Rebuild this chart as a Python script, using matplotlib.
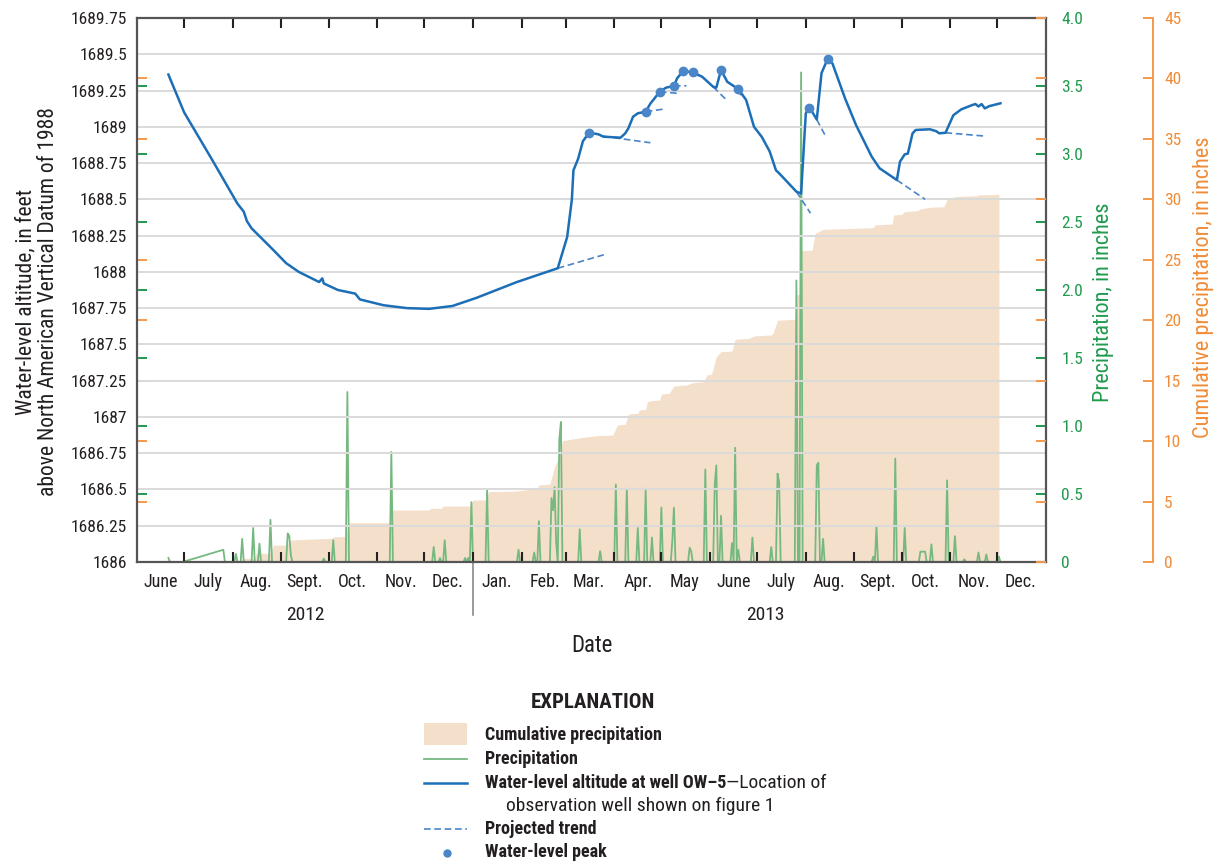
import matplotlib
matplotlib.use('Agg')
import matplotlib.pyplot as plt
import matplotlib.dates as mdates
import matplotlib.transforms as mtransforms
import matplotlib.font_manager as fm
from matplotlib.ticker import FixedLocator, FixedFormatter, FuncFormatter
from matplotlib.lines import Line2D
from matplotlib.patches import Rectangle
import pandas as pd

# узкий шрифт, если есть
avail = {f.name for f in fm.fontManager.ttflist}
narrow = [n for n in ['Liberation Sans Narrow', 'Roboto Condensed', 'Open Sans Condensed',
                      'Noto Sans Condensed', 'DejaVu Sans Condensed'] if n in avail]
if narrow:
    plt.rcParams['font.family'] = [narrow[0], 'DejaVu Sans']
    FSC = 1.0
else:
    plt.rcParams['font.family'] = ['Roboto', 'Liberation Sans', 'DejaVu Sans']
    FSC = 0.9

# уровень воды в скважине OW-5, футы
level_dates = ['2012-06-21', '2012-07-01', '2012-07-19', '2012-08-04', '2012-08-08', '2012-08-10',
               '2012-08-13', '2012-08-26', '2012-09-04', '2012-09-12', '2012-09-25', '2012-09-27',
               '2012-09-28', '2012-10-07', '2012-10-18', '2012-10-21', '2012-11-05', '2012-11-20',
               '2012-12-04', '2012-12-19', '2013-01-03', '2013-01-16', '2013-01-29', '2013-02-24',
               '2013-03-02', '2013-03-05', '2013-03-06', '2013-03-09', '2013-03-12', '2013-03-16',
               '2013-03-22', '2013-03-25', '2013-04-05', '2013-04-08', '2013-04-10', '2013-04-13',
               '2013-04-16', '2013-04-21', '2013-04-24', '2013-04-30', '2013-05-04', '2013-05-09',
               '2013-05-11', '2013-05-15', '2013-05-21', '2013-05-27', '2013-06-03', '2013-06-05',
               '2013-06-08', '2013-06-12', '2013-06-19', '2013-06-24', '2013-06-29', '2013-07-04',
               '2013-07-09', '2013-07-13', '2013-07-15', '2013-07-26', '2013-07-29', '2013-08-01',
               '2013-08-03', '2013-08-05', '2013-08-08', '2013-08-11', '2013-08-15', '2013-08-18',
               '2013-08-26', '2013-09-02', '2013-09-12', '2013-09-17', '2013-09-28', '2013-09-30',
               '2013-10-03', '2013-10-05', '2013-10-08', '2013-10-10', '2013-10-19', '2013-10-23',
               '2013-10-25', '2013-10-29', '2013-11-03', '2013-11-08', '2013-11-15', '2013-11-17',
               '2013-11-19', '2013-11-21', '2013-11-23', '2013-11-26', '2013-12-03']
level_vals = [1689.36, 1689.10, 1688.77, 1688.47, 1688.415, 1688.35,
              1688.30, 1688.16, 1688.06, 1688.00, 1687.93, 1687.955,
              1687.92, 1687.875, 1687.85, 1687.81, 1687.77, 1687.75,
              1687.745, 1687.765, 1687.82, 1687.875, 1687.93, 1688.025,
              1688.24, 1688.50, 1688.70, 1688.78, 1688.90, 1688.96,
              1688.948, 1688.932, 1688.925, 1688.955, 1688.99, 1689.07,
              1689.093, 1689.104, 1689.16, 1689.242, 1689.27, 1689.281,
              1689.334, 1689.385, 1689.375, 1689.345, 1689.276, 1689.27,
              1689.391, 1689.31, 1689.26, 1689.185, 1689.00, 1688.93,
              1688.83, 1688.70, 1688.68, 1688.553, 1688.54, 1689.093,
              1689.127, 1689.104, 1689.05, 1689.37, 1689.47, 1689.436,
              1689.196, 1689.012, 1688.794, 1688.714, 1688.633, 1688.76,
              1688.81, 1688.815, 1688.955, 1688.978, 1688.983, 1688.97,
              1688.955, 1688.959, 1689.08, 1689.12, 1689.15, 1689.157,
              1689.14, 1689.157, 1689.127, 1689.143, 1689.162]

# пики уровня
peak_dates = ['2013-03-16', '2013-04-21', '2013-04-30', '2013-05-09', '2013-05-15',
              '2013-05-21', '2013-06-08', '2013-06-19', '2013-08-03', '2013-08-15']
peak_vals = [1688.96, 1689.104, 1689.242, 1689.281, 1689.385,
             1689.375, 1689.391, 1689.26, 1689.127, 1689.47]

# прогнозные тренды: начало и конец
trend_start = ['2013-02-24', '2013-03-25', '2013-04-21', '2013-04-30', '2013-05-09', '2013-05-21',
               '2013-06-03', '2013-06-19', '2013-07-26', '2013-08-08', '2013-09-28', '2013-10-29']
trend_start_vals = [1688.025, 1688.935, 1689.104, 1689.242, 1689.281, 1689.375,
                    1689.276, 1689.26, 1688.553, 1689.05, 1688.633, 1688.959]
trend_end = ['2013-03-26', '2013-04-24', '2013-05-03', '2013-05-11', '2013-05-17', '2013-05-25',
             '2013-06-11', '2013-06-21', '2013-08-04', '2013-08-14', '2013-10-16', '2013-11-23']
trend_end_vals = [1688.12, 1688.89, 1689.123, 1689.231, 1689.283, 1689.35,
                  1689.19, 1689.204, 1688.404, 1688.927, 1688.50, 1688.936]

# суточные осадки, дюймы (дни без отметки = 0)
precip_first, precip_last = '2012-06-21', '2013-12-03'
precip_gap = ('2012-07-01', '2012-07-25')  # пропуск данных
rain_dates = ['2012-06-21', '2012-07-26', '2012-08-03', '2012-08-07', '2012-08-14', '2012-08-18',
              '2012-08-25', '2012-09-05', '2012-09-06', '2012-09-07', '2012-09-28', '2012-10-04',
              '2012-10-13', '2012-11-10', '2012-12-07', '2012-12-11', '2012-12-14', '2012-12-27',
              '2012-12-29', '2012-12-31', '2013-01-10', '2013-01-30', '2013-02-09', '2013-02-12',
              '2013-02-20', '2013-02-21', '2013-02-22', '2013-02-23', '2013-02-25', '2013-02-26',
              '2013-03-10', '2013-03-23', '2013-04-02', '2013-04-09', '2013-04-16', '2013-04-21',
              '2013-04-25', '2013-05-01', '2013-05-08', '2013-05-09', '2013-05-19', '2013-05-20',
              '2013-05-29', '2013-06-04', '2013-06-05', '2013-06-08', '2013-06-15', '2013-06-17',
              '2013-06-19', '2013-06-28', '2013-07-10', '2013-07-14', '2013-07-15', '2013-07-26',
              '2013-07-29', '2013-08-08', '2013-08-09', '2013-08-12', '2013-09-13', '2013-09-15',
              '2013-09-27', '2013-10-03', '2013-10-13', '2013-10-14', '2013-10-15', '2013-10-16',
              '2013-10-20', '2013-10-30', '2013-11-04', '2013-11-10', '2013-11-19', '2013-11-24',
              '2013-12-02']
rain_vals = [0.03, 0.09, 0.06, 0.17, 0.25, 0.135,
             0.31, 0.21, 0.19, 0.05, 0.025, 0.16,
             1.25, 0.81, 0.11, 0.03, 0.16, 0.03,
             0.03, 0.44, 0.53, 0.09, 0.07, 0.30,
             0.47, 0.38, 0.55, 0.14, 0.90, 1.03,
             0.24, 0.08, 0.57, 0.54, 0.25, 0.54,
             0.18, 0.40, 0.16, 0.40, 0.105, 0.08,
             0.68, 0.57, 0.71, 0.34, 0.14, 0.84,
             0.09, 0.18, 0.11, 0.65, 0.59, 2.07,
             3.60, 0.71, 0.73, 0.17, 0.04, 0.26,
             0.76, 0.25, 0.076, 0.076, 0.076, 0.076,
             0.13, 0.60, 0.19, 0.02, 0.07, 0.055,
             0.04]

# накопленные осадки, дюймы
cum_dates = ['2012-06-21', '2012-08-06', '2012-08-08', '2012-08-15', '2012-08-16', '2012-08-25',
             '2012-08-27', '2012-09-04', '2012-09-07', '2012-10-03', '2012-10-05', '2012-10-12',
             '2012-10-14', '2012-11-09', '2012-11-11', '2012-12-04', '2012-12-05', '2012-12-12',
             '2012-12-13', '2012-12-30', '2013-01-01', '2013-01-09', '2013-01-11', '2013-01-29',
             '2013-02-11', '2013-02-12', '2013-02-19', '2013-02-22', '2013-02-25', '2013-02-27',
             '2013-03-10', '2013-03-21', '2013-03-31', '2013-04-03', '2013-04-08', '2013-04-10',
             '2013-04-16', '2013-04-17', '2013-04-21', '2013-04-22', '2013-04-24', '2013-04-30',
             '2013-05-01', '2013-05-06', '2013-05-09', '2013-05-17', '2013-05-21', '2013-05-28',
             '2013-05-30', '2013-06-02', '2013-06-05', '2013-06-08', '2013-06-15', '2013-06-17',
             '2013-06-26', '2013-06-29', '2013-07-10', '2013-07-11', '2013-07-14', '2013-07-25',
             '2013-07-26', '2013-07-28', '2013-07-29', '2013-08-05', '2013-08-07', '2013-08-12',
             '2013-09-13', '2013-09-14', '2013-09-25', '2013-09-26', '2013-10-01', '2013-10-03',
             '2013-10-11', '2013-10-13', '2013-10-19', '2013-10-28', '2013-10-30', '2013-11-04',
             '2013-11-18', '2013-11-19', '2013-12-02']
cum_vals = [0.0, 0.0, 0.3, 0.3, 0.72, 0.72,
            1.4, 1.4, 1.82, 1.96, 2.1, 2.1,
            3.25, 3.25, 4.3, 4.3, 4.44, 4.44,
            4.63, 4.63, 5.13, 5.13, 5.82, 5.87,
            6.1, 6.37, 6.45, 7.9, 8.7, 10.03,
            10.28, 10.45, 10.5, 11.33, 11.39, 12.24,
            12.3, 12.57, 12.63, 13.26, 13.34, 13.4,
            13.9, 13.95, 14.56, 14.64, 14.83, 14.91,
            15.47, 15.55, 16.98, 17.4, 17.45, 18.42,
            18.5, 18.7, 18.78, 18.9, 20.0, 20.07,
            22.14, 22.14, 25.75, 25.8, 27.19, 27.52,
            27.65, 27.88, 27.96, 28.7, 28.76, 28.98,
            29.06, 29.2, 29.34, 29.39, 30.0, 30.22,
            30.3, 30.36, 30.42]

month_labels = ['June', 'July', 'Aug.', 'Sept.', 'Oct.', 'Nov.', 'Dec.',
                'Jan.', 'Feb.', 'Mar.', 'Apr.', 'May', 'June', 'July', 'Aug.',
                'Sept.', 'Oct.', 'Nov.', 'Dec.']
years = ['2012', '2013']

# цвета
BLUE = '#1c6fb7'
TREND = '#4a84c6'
GREEN_LINE = '#76b980'
GREEN = '#1f9a4c'
ORANGE = '#f39a4b'
ORANGE_TXT = '#f08b36'
FILL = '#f4dfcb'
GRID = '#dadada'
SPINE = '#555555'
TXT = '#231f20'

# подготовка рядов
ld = pd.to_datetime(level_dates)
cd = pd.to_datetime(cum_dates)
days = pd.date_range(precip_first, precip_last, freq='D')
precip = pd.Series(0.0, index=days)
precip[pd.to_datetime(rain_dates)] = rain_vals
precip = precip[(precip.index < precip_gap[0]) | (precip.index > precip_gap[1])]

fig = plt.figure(figsize=(12.15, 8.61), dpi=100)
ax = fig.add_axes([137 / 1215, 1 - 562 / 861, 909 / 1215, 544 / 861])
ax3 = ax.twinx()  # накопленные
ax2 = ax.twinx()  # суточные
ax4 = ax.twinx()  # оранжевые засечки у правой рамки

ax3.set_zorder(1)
ax2.set_zorder(2)
ax.set_zorder(3)
ax4.set_zorder(4)
for a in (ax, ax2, ax3, ax4):
    a.patch.set_visible(False)

ax3.fill_between(cd, cum_vals, 0, color=FILL, lw=0)
ax2.plot(precip.index, precip.values, color=GREEN_LINE, lw=1.3)

ax.plot(ld, level_vals, color=BLUE, lw=1.8, zorder=5)
for s, sv, e, ev in zip(trend_start, trend_start_vals, trend_end, trend_end_vals):
    ax.plot(pd.to_datetime([s, e]), [sv, ev], color=TREND, lw=1.2, ls=(0, (4, 2.2)), zorder=4)
ax.plot(pd.to_datetime(peak_dates), peak_vals, 'o', color='#4a86c8', ms=6, zorder=6)

x0, x1 = pd.Timestamp('2012-06-01'), pd.Timestamp('2014-01-01')
ax.set_xlim(x0, x1)
ax.set_ylim(1686, 1689.75)
ax2.set_ylim(0, 4)
ax3.set_ylim(0, 45)
ax4.set_ylim(0, 45)

TICK_FS = 12.5 * FSC

# левая ось
ax.set_yticks([1686 + 0.25 * i for i in range(16)])
ax.yaxis.set_major_formatter(FuncFormatter(lambda v, p: '%g' % v))
ax.tick_params(axis='y', length=0, pad=7, labelsize=TICK_FS, labelcolor=TXT)
ax.yaxis.grid(True, color=GRID, lw=1.4)
ax.set_axisbelow(True)

# ось дат
month_starts = pd.date_range('2012-07-01', '2013-12-01', freq='MS')
ax.xaxis.set_major_locator(FixedLocator(mdates.date2num(month_starts)))
mids = pd.date_range('2012-06-01', '2013-12-01', freq='MS') + pd.Timedelta(days=15)
ax.xaxis.set_minor_locator(FixedLocator(mdates.date2num(mids)))
ax.xaxis.set_minor_formatter(FixedFormatter(month_labels))
ax.xaxis.set_major_formatter(FixedFormatter([''] * len(month_starts)))
ax.tick_params(axis='x', which='major', direction='in', top=True, bottom=True,
               length=7, width=1.5, color='#222222')
ax.tick_params(axis='x', which='minor', length=0, pad=8, labelsize=13 * FSC, labelcolor=TXT)

for a in (ax2, ax3, ax4):
    a.tick_params(axis='x', which='both', bottom=False, top=False, labelbottom=False)

for sp in ax.spines.values():
    sp.set_color(SPINE)
    sp.set_linewidth(1.6)

# суточные осадки (зелёная ось)
ax2.set_yticks([0.5 * i for i in range(9)])
ax2.yaxis.set_major_formatter(FuncFormatter(lambda v, p: '0' if v == 0 else '%.1f' % v))
ax2.tick_params(axis='y', direction='in', left=True, right=True, labelleft=False, labelright=True,
                length=7, width=1.4, color=GREEN, labelcolor=GREEN, labelsize=TICK_FS, pad=11)
for sp in ax2.spines.values():
    sp.set_visible(False)
ax2.set_ylabel('Precipitation, in inches', color=GREEN, fontsize=16 * FSC, va='center')
ax2.yaxis.set_label_coords((1104 - 137) / 909, (562 - 302) / 544)

# накопленные осадки (оранжевая ось)
for name, sp in ax3.spines.items():
    sp.set_visible(name == 'right')
ax3.spines['right'].set_position(('outward', 77))
ax3.spines['right'].set_color(ORANGE)
ax3.spines['right'].set_linewidth(1.4)
ax3.set_yticks(range(0, 46, 5))
ax3.tick_params(axis='y', direction='in', left=True, right=True, labelleft=False, labelright=True,
                length=7, width=1.4, color=ORANGE, labelcolor=ORANGE_TXT, labelsize=TICK_FS, pad=8)
ax3.set_ylabel('Cumulative precipitation, in inches', color=ORANGE_TXT, fontsize=16 * FSC, va='center')
ax3.yaxis.set_label_coords((1204 - 137) / 909, (562 - 287) / 544)

for sp in ax4.spines.values():
    sp.set_visible(False)
ax4.set_yticks(range(0, 46, 5))
ax4.tick_params(axis='y', direction='in', left=False, right=True, labelright=False,
                length=7, width=1.4, color=ORANGE)

# подписи годов и разделитель
btr = mtransforms.blended_transform_factory(ax.transData, ax.transAxes)
sep = pd.Timestamp('2013-01-01')
ax.plot([sep, sep], [0, -0.098], transform=btr, color='#7f7f7f', lw=1.1, clip_on=False)
ax.text(pd.Timestamp('2012-09-16'), -0.0975, years[0], transform=btr, ha='center', va='center',
        fontsize=14 * FSC, color=TXT)
ax.text(pd.Timestamp('2013-07-06'), -0.0975, years[1], transform=btr, ha='center', va='center',
        fontsize=14 * FSC, color=TXT)
ax.text(0.5, -0.1526, 'Date', transform=ax.transAxes, ha='center', va='center',
        fontsize=16.5 * FSC, color=TXT)

ax.set_ylabel('Water-level altitude, in feet\nabove North American Vertical Datum of 1988',
              fontsize=15.5 * FSC, color=TXT, linespacing=1.1, va='center')
ax.yaxis.set_label_coords((37 - 137) / 909, (562 - 302) / 544)

# легенда
lax = fig.add_axes([0, 0, 1, 1], zorder=10)
lax.set_xlim(0, 1215)
lax.set_ylim(861, 0)
lax.axis('off')
fs_b = 13 * FSC
fs_r = 14 * FSC
lax.text(593, 703, 'EXPLANATION', ha='center', va='center', fontsize=15 * FSC,
         fontweight='bold', color=TXT)
lax.add_patch(Rectangle((424, 723), 43, 22, color=FILL, lw=0))
lax.add_line(Line2D([424, 467], [758.5, 758.5], color=GREEN_LINE, lw=1.3))
lax.add_line(Line2D([424, 467], [782.5, 782.5], color=BLUE, lw=1.8))
lax.add_line(Line2D([424, 467], [829, 829], color=TREND, lw=1.2, ls=(0, (4, 2.2))))
lax.plot([446.5], [852.5], 'o', color='#4a86c8', ms=5)
items = [(735, 'Cumulative precipitation'), (759, 'Precipitation'),
         (829, 'Projected trend'), (852, 'Water-level peak')]
for y, s in items:
    lax.text(485, y, s, va='center', fontsize=fs_b, fontweight='bold', color=TXT)
t_bold = lax.text(485, 783, 'Water-level altitude at well OW\u20135', va='center', fontsize=fs_b,
                  fontweight='bold', color=TXT)
fig.canvas.draw()
bb = t_bold.get_window_extent()
xe = lax.transData.inverted().transform((bb.x1, bb.y0))[0]
lax.text(xe, 783, '\u2014Location of', va='center', fontsize=fs_r, color=TXT)
lax.text(506, 806, 'observation well shown on figure 1', va='center', fontsize=fs_r, color=TXT)

fig.savefig('out.png', dpi=100)
